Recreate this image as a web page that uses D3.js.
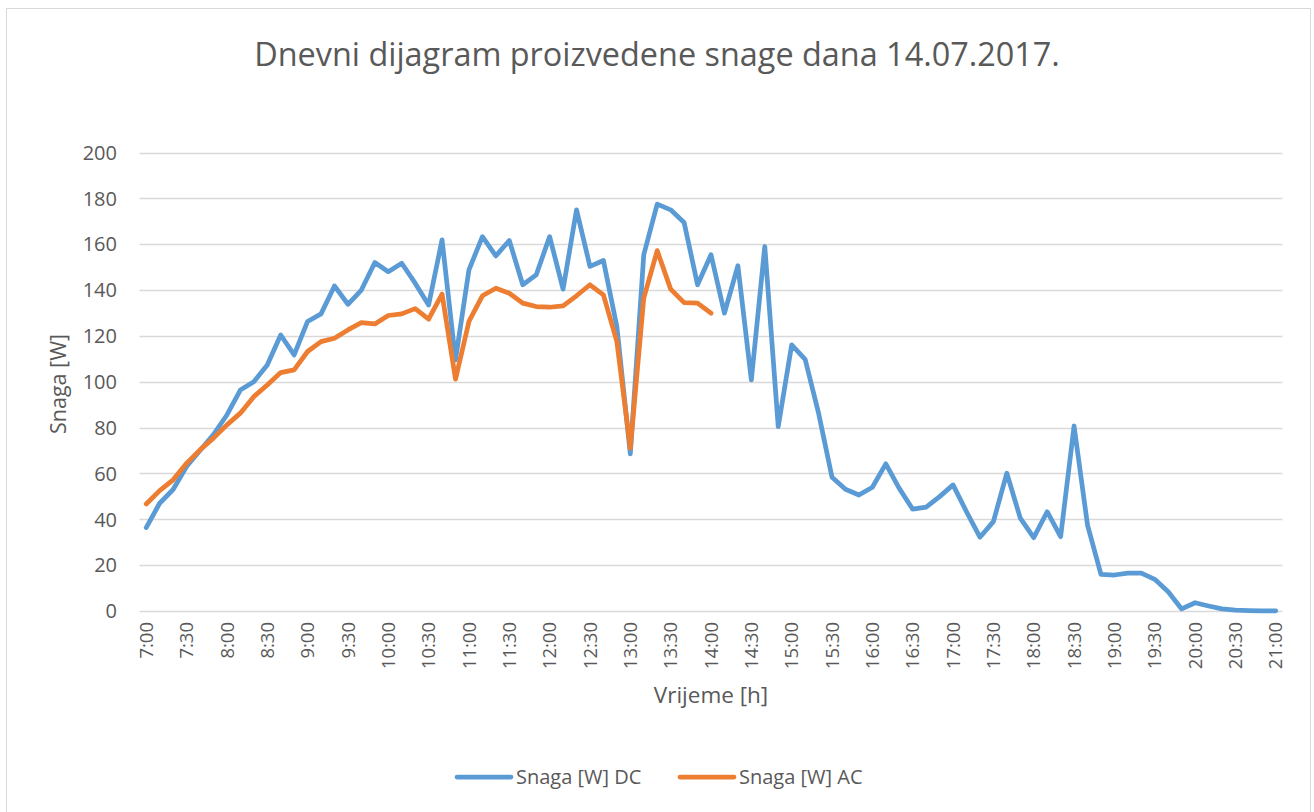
<!DOCTYPE html>
<html>
<head>
<meta charset="utf-8">
<script src="https://cdn.jsdelivr.net/npm/d3@7"></script>
<style>
  html, body { margin: 0; padding: 0; background: #fff; }
  text { font-family: "Open Sans", sans-serif; fill: #595959; }
</style>
</head>
<body>
<div id="chart"></div>
<script>
// 10-minute readings, 7:00 - 21:00
const times = [
  "7:00","7:10","7:20","7:30","7:40","7:50","8:00","8:10","8:20","8:30","8:40","8:50",
  "9:00","9:10","9:20","9:30","9:40","9:50","10:00","10:10","10:20","10:30","10:40","10:50",
  "11:00","11:10","11:20","11:30","11:40","11:50","12:00","12:10","12:20","12:30","12:40","12:50",
  "13:00","13:10","13:20","13:30","13:40","13:50","14:00","14:10","14:20","14:30","14:40","14:50",
  "15:00","15:10","15:20","15:30","15:40","15:50","16:00","16:10","16:20","16:30","16:40","16:50",
  "17:00","17:10","17:20","17:30","17:40","17:50","18:00","18:10","18:20","18:30","18:40","18:50",
  "19:00","19:10","19:20","19:30","19:40","19:50","20:00","20:10","20:20","20:30","20:40","20:50",
  "21:00"
];

const dcValues = [
  36.4, 47, 53, 63, 70, 77, 85.5, 96.4, 100, 107.3, 120.4, 111.7,
  126.3, 129.6, 141.8, 133.8, 140, 152, 148, 151.7, 143, 133.5, 161.9, 109.5,
  148.8, 163.3, 154.9, 161.6, 142.3, 146.6, 163.3, 140.4, 175, 150.3, 152.9, 124,
  68.5, 155.4, 177.5, 175, 169.5, 142.3, 155.4, 129.9, 150.6, 100.8, 159, 80.4,
  116.1, 109.8, 86.3, 58.3, 53.1, 50.6, 54, 64.2, 53.5, 44.4, 45.3, 49.9,
  55, 43.3, 32.2, 39, 60.1, 40.5, 32, 43.3, 32.4, 80.7, 37.5, 16,
  15.7, 16.5, 16.5, 13.8, 8.4, 0.9, 3.6, 2.2, 0.9, 0.4, 0.2, 0.1,
  0.1
];

const acValues = [
  46.7, 52.5, 57.2, 64.4, 70.3, 75.4, 81.2, 86.3, 93.5, 98.6, 104, 105.2,
  113.2, 117.5, 119, 122.6, 125.8, 125.2, 128.9, 129.6, 131.9, 127.3, 138.2, 101.1,
  126.3, 137.5, 140.8, 138.6, 134.3, 132.8, 132.5, 133.1, 137.5, 142.3, 137.9, 117.5,
  71, 136.5, 157.2, 140.4, 134.5, 134.3, 129.9
];

const yTicks = [0, 20, 40, 60, 80, 100, 120, 140, 160, 180, 200];
const seriesNames = ["Snaga [W] DC", "Snaga [W] AC"];
const seriesColors = ["#5B9BD5", "#ED7D31"];
const titleText = "Dnevni dijagram proizvedene snage dana 14.07.2017.";

const width = 1314, height = 812;

const svg = d3.select("#chart").append("svg")
  .attr("width", width)
  .attr("height", height);

// chart frame
svg.append("rect")
  .attr("x", 6.5).attr("y", 8.5)
  .attr("width", 1304).attr("height", 812)
  .attr("fill", "#fff")
  .attr("stroke", "#D9D9D9");

const xScale = d3.scalePoint()
  .domain(times)
  .range([139.5, 1282.5])
  .padding(0.5);

const yScale = d3.scaleLinear()
  .domain([0, 200])
  .range([611, 152.5]);

// gridlines
svg.append("g")
  .selectAll("line")
  .data(yTicks)
  .enter()
  .append("line")
  .attr("x1", 139.5).attr("x2", 1282.5)
  .attr("y1", d => Math.round(yScale(d)) + 0.5)
  .attr("y2", d => Math.round(yScale(d)) + 0.5)
  .attr("stroke", "#D9D9D9")
  .attr("stroke-width", 1.5);

// y axis labels
svg.append("g")
  .selectAll("text")
  .data(yTicks)
  .enter()
  .append("text")
  .attr("x", 117)
  .attr("y", d => yScale(d))
  .attr("dy", "0.36em")
  .attr("text-anchor", "end")
  .style("font-size", "20px")
  .text(d => d);

// x axis labels every 30 min
const xLabels = times.filter((t, i) => i % 3 === 0);
svg.append("g")
  .selectAll("text")
  .data(xLabels)
  .enter()
  .append("text")
  .attr("transform", d => `translate(${xScale(d)},622) rotate(-90)`)
  .attr("dy", "0.36em")
  .attr("text-anchor", "end")
  .style("font-size", "18.5px")
  .text(d => d);

// lines
const line = d3.line()
  .defined(d => d.v != null)
  .x(d => xScale(d.t))
  .y(d => yScale(d.v));

const series = [dcValues, acValues].map((vals, k) => ({
  name: seriesNames[k],
  color: seriesColors[k],
  points: vals.map((v, i) => ({ t: times[i], v: v }))
}));

svg.append("g")
  .selectAll("path")
  .data(series)
  .enter()
  .append("path")
  .attr("d", d => line(d.points))
  .attr("fill", "none")
  .attr("stroke", d => d.color)
  .attr("stroke-width", 4.75)
  .attr("stroke-linejoin", "round")
  .attr("stroke-linecap", "round");

// title
svg.append("text")
  .attr("x", 657).attr("y", 66)
  .attr("text-anchor", "middle")
  .style("font-size", "32.4px")
  .text(titleText);

// axis titles
svg.append("text")
  .attr("transform", "translate(66,384) rotate(-90)")
  .attr("text-anchor", "middle")
  .style("font-size", "21.5px")
  .text("Snaga [W]");

svg.append("text")
  .attr("x", 711).attr("y", 703)
  .attr("text-anchor", "middle")
  .style("font-size", "22.5px")
  .text("Vrijeme [h]");

// legend
const legendX = [456, 679];
const legend = svg.append("g")
  .selectAll("g")
  .data(series)
  .enter()
  .append("g")
  .attr("transform", (d, i) => `translate(${legendX[i]},777)`);

legend.append("line")
  .attr("x1", 1).attr("x2", 55)
  .attr("stroke", d => d.color)
  .attr("stroke-width", 4.75)
  .attr("stroke-linecap", "round");

legend.append("text")
  .attr("x", 60)
  .attr("dy", "0.36em")
  .style("font-size", "20px")
  .text(d => d.name);
</script>
</body>
</html>
